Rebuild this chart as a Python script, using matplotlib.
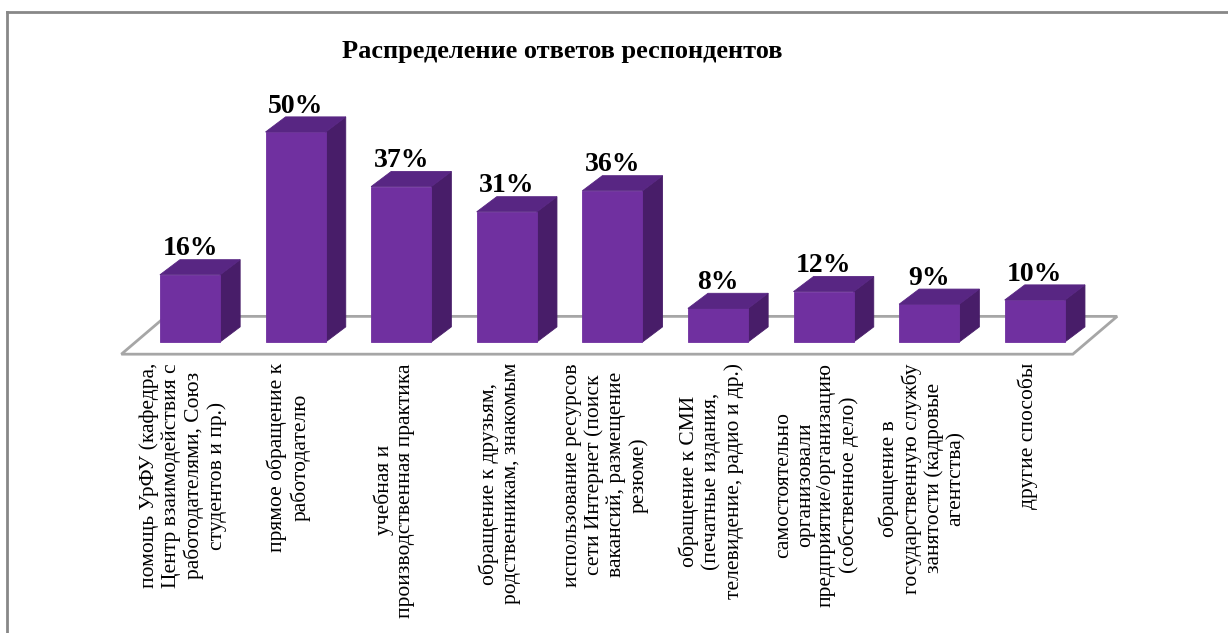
import matplotlib
matplotlib.use("Agg")
import matplotlib.pyplot as plt
from matplotlib.patches import Polygon
from matplotlib.lines import Line2D

plt.rcParams['font.family'] = ['Liberation Serif', 'DejaVu Serif']

title = "Распределение ответов респондентов"
categories = [
    "помощь УрФУ (кафедра,\nЦентр взаимодействия с\nработодателями, Союз\nстудентов и пр.)",
    "прямое обращение к\nработодателю",
    "учебная и\nпроизводственная практика",
    "обращение к друзьям,\nродственникам, знакомым",
    "использование ресурсов\nсети Интернет (поиск\nвакансий, размещение\nрезюме)",
    "обращение к СМИ\n(печатные издания,\nтелевидение, радио и др.)",
    "самостоятельно\nорганизовали\nпредприятие/организацию\n(собственное дело)",
    "обращение в\nгосударственную службу\nзанятости (кадровые\nагентства)",
    "другие способы",
]
values = [16, 50, 37, 31, 36, 8, 12, 9, 10]

# style
FRONT = "#7030A0"
TOP = "#582683"
SIDE = "#481D69"
FLOOR_EDGE = "#A6A6A6"

W, H, DPI = 1228, 633, 100
fig = plt.figure(figsize=(W / DPI, H / DPI), dpi=DPI)
ax = fig.add_axes([0, 0, 1, 1])
ax.set_axis_off()

# data scale: one category step ~105.6 px, one percent ~4.2 px
step_px, pct_px = 105.6, 4.2
x0_px, base_px = 190.0, 342.0
ax.set_xlim(-x0_px / step_px, (W - x0_px) / step_px)
ax.set_ylim(-(H - base_px) / pct_px, base_px / pct_px)

half = 0.285          # half bar width (category units)
bdx, bdy = 0.19, 3.6  # bar depth offset
fdx, fdy = 0.42, 9.0  # floor depth offset
floor_front = -2.9
floor_l, floor_r = -0.65, 8.36

# floor
floor = Polygon([(floor_l, floor_front), (floor_r, floor_front),
                 (floor_r + fdx, floor_front + fdy), (floor_l + fdx, floor_front + fdy)],
                closed=True, facecolor="white", edgecolor=FLOOR_EDGE, linewidth=2.0, zorder=1)
ax.add_patch(floor)

for i, v in enumerate(values):
    l, r = i - half, i + half
    front = Polygon([(l, 0), (r, 0), (r, v), (l, v)], closed=True,
                    facecolor=FRONT, edgecolor=FRONT, linewidth=0.6, zorder=3)
    side = Polygon([(r, 0), (r + bdx, bdy), (r + bdx, v + bdy), (r, v)], closed=True,
                   facecolor=SIDE, edgecolor=SIDE, linewidth=0.6, zorder=2)
    top = Polygon([(l, v), (r, v), (r + bdx, v + bdy), (l + bdx, v + bdy)], closed=True,
                  facecolor=TOP, edgecolor=TOP, linewidth=0.6, zorder=3)
    for p in (side, front, top):
        ax.add_patch(p)
    ax.text(i, v + bdy + 1.0, f"{v}%", ha="center", va="baseline",
            fontsize=20, fontweight="bold", color="black", zorder=4)
    ax.text(i - 0.065, -5.0, categories[i], rotation=90, ha="center", va="top",
            multialignment="center", fontsize=15.5, linespacing=1.17, color="black")

fig.text(562 / W, 1 - 58 / H, title, ha="center", va="baseline",
         fontsize=19, fontweight="bold")

# outer frame (top and left edges)
fig.add_artist(Line2D([7 / W, 1], [1 - 12 / H, 1 - 12 / H], transform=fig.transFigure,
                      color="#888888", linewidth=2.0))
fig.add_artist(Line2D([7 / W, 7 / W], [0, 1 - 12 / H], transform=fig.transFigure,
                      color="#888888", linewidth=2.0))

fig.savefig("out.png", dpi=DPI)
